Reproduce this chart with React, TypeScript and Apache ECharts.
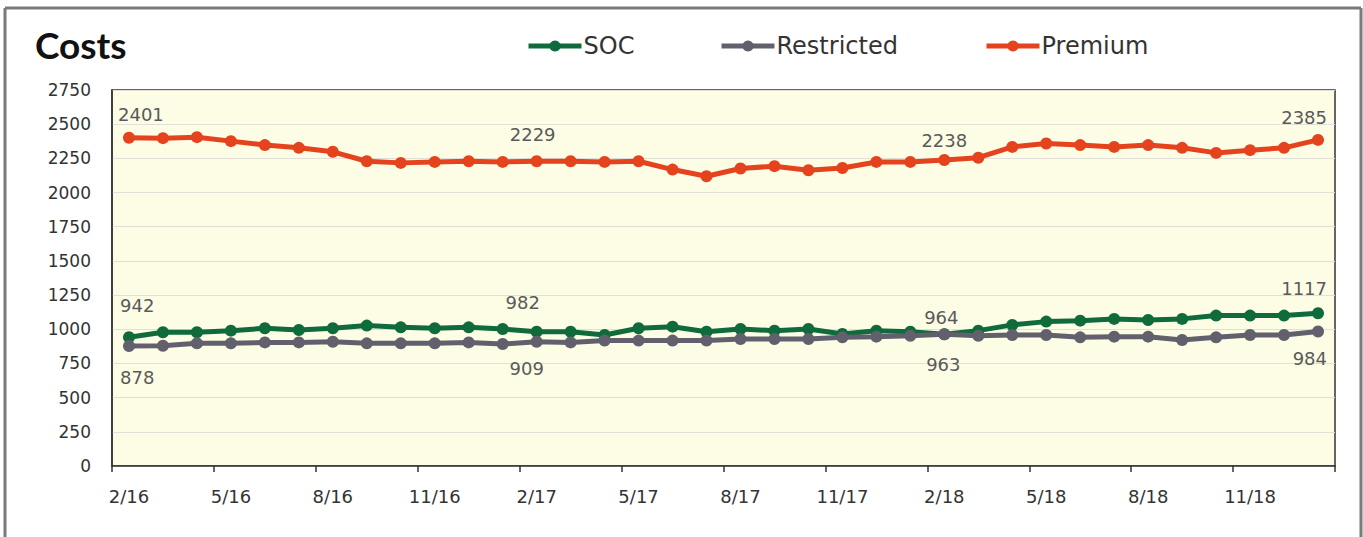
import React, { useEffect, useRef } from "react";
import * as echarts from "echarts";

const months: string[] = [
  "2/16", "3/16", "4/16", "5/16", "6/16", "7/16", "8/16", "9/16", "10/16", "11/16", "12/16", "1/17",
  "2/17", "3/17", "4/17", "5/17", "6/17", "7/17", "8/17", "9/17", "10/17", "11/17", "12/17", "1/18",
  "2/18", "3/18", "4/18", "5/18", "6/18", "7/18", "8/18", "9/18", "10/18", "11/18", "12/18", "1/19",
];

const socValues: number[] = [
  942, 978, 978, 990, 1007, 995, 1007, 1027, 1014, 1007, 1014, 1002,
  982, 982, 958, 1007, 1019, 982, 1002, 990, 1002, 966, 990, 982,
  964, 990, 1032, 1056, 1063, 1076, 1068, 1076, 1100, 1100, 1100, 1117,
];

const restrictedValues: number[] = [
  878, 880, 897, 897, 904, 904, 909, 897, 897, 897, 904, 892,
  909, 904, 917, 917, 917, 917, 929, 929, 929, 941, 946, 953,
  963, 953, 958, 958, 941, 946, 946, 922, 941, 958, 958, 984,
];

const premiumValues: number[] = [
  2401, 2398, 2405, 2376, 2347, 2327, 2298, 2229, 2217, 2224, 2229, 2224,
  2229, 2229, 2224, 2229, 2168, 2119, 2176, 2193, 2163, 2180, 2224, 2224,
  2238, 2255, 2334, 2359, 2347, 2334, 2347, 2327, 2290, 2310, 2327, 2385,
];

const yTicks = { min: 0, max: 2750, interval: 250 };

// label placement per labelled point: [index, position, distance, align, dx]
type LabelSpec = [number, "top" | "bottom", number, "left" | "center" | "right", number];

const premiumLabels: LabelSpec[] = [
  [0, "top", 8, "left", -11],
  [12, "top", 12, "center", -4],
  [24, "top", 5, "center", 0],
  [35, "top", 7, "right", 9],
];
const socLabels: LabelSpec[] = [
  [0, "top", 17, "left", -9],
  [12, "top", 14, "center", -14],
  [24, "top", 2, "center", -3],
  [35, "top", 10, "right", 9],
];
const restrictedLabels: LabelSpec[] = [
  [0, "bottom", 17, "left", -9],
  [12, "bottom", 12, "center", -10],
  [24, "bottom", 15, "center", -1],
  [35, "bottom", 12, "right", 9],
];

const FONT = "'DejaVu Sans', sans-serif";

function buildData(values: number[], specs: LabelSpec[]) {
  return values.map((v, i) => {
    const s = specs.find((x) => x[0] === i);
    if (!s) return v;
    return {
      value: v,
      label: {
        show: true,
        position: s[1],
        distance: s[2],
        align: s[3],
        offset: [s[4], 0],
        color: "#5a5a5a",
        fontSize: 18,
        fontFamily: FONT,
      },
    };
  });
}

const legendBase = {
  top: 29,
  itemWidth: 53,
  itemHeight: 14,
  lineStyle: { width: 5 },
  textStyle: { fontFamily: FONT, fontSize: 24, color: "#333333", padding: [0, 0, 0, -3] },
};

export default function App() {
  const ref = useRef<HTMLDivElement>(null);

  useEffect(() => {
    if (!ref.current) return;
    const chart = echarts.init(ref.current, undefined, { renderer: "svg" });
    const mkSeries = (name: string, color: string, values: number[], specs: LabelSpec[]) => ({
      name,
      type: "line",
      data: buildData(values, specs),
      symbol: "circle",
      symbolSize: 12,
      lineStyle: { color, width: 5 },
      itemStyle: { color },
      label: { show: false },
      emphasis: { disabled: true },
    });
    chart.setOption({
      animation: false,
      backgroundColor: "#ffffff",
      title: {
        text: "Costs",
        left: 30,
        top: 21,
        textStyle: { fontFamily: "Lato, 'Noto Sans', sans-serif", fontWeight: "bold", fontSize: 37, color: "#111111" },
      },
      legend: [
        { ...legendBase, left: 521, data: ["SOC"] },
        { ...legendBase, left: 714, data: ["Restricted"] },
        { ...legendBase, left: 979, data: ["Premium"] },
      ],
      grid: {
        left: 112,
        right: 28,
        top: 90,
        bottom: 71,
        show: true,
        backgroundColor: "#fdfde6",
        borderColor: "#333333",
        borderWidth: 1.5,
      },
      xAxis: {
        type: "category",
        data: months,
        boundaryGap: true,
        axisLine: { lineStyle: { color: "#333333", width: 1.5 } },
        axisTick: { show: true, interval: 2, length: 6, lineStyle: { color: "#333333", width: 1.5 } },
        axisLabel: { interval: 2, margin: 21, fontSize: 18, fontFamily: FONT, color: "#333333" },
        splitLine: { show: false },
      },
      yAxis: {
        type: "value",
        min: yTicks.min,
        max: yTicks.max,
        interval: yTicks.interval,
        axisLine: { show: true, lineStyle: { color: "#333333", width: 1.5 } },
        axisTick: { show: false },
        axisLabel: {
          margin: 21,
          fontSize: 17,
          fontFamily: FONT,
          color: "#333333",
          formatter: (v: number) => String(v),
        },
        splitLine: { show: true, lineStyle: { color: "#e0e0d8", width: 1 } },
      },
      graphic: [
        { type: "line", shape: { x1: 5, y1: 8, x2: 1361, y2: 8 }, style: { stroke: "#7a7a7a", lineWidth: 3 } },
        { type: "line", shape: { x1: 5, y1: 8, x2: 5, y2: 537 }, style: { stroke: "#7a7a7a", lineWidth: 3 } },
        { type: "line", shape: { x1: 1361, y1: 8, x2: 1361, y2: 537 }, style: { stroke: "#7a7a7a", lineWidth: 3 } },
      ],
      series: [
        mkSeries("SOC", "#0f6a3c", socValues, socLabels),
        mkSeries("Restricted", "#62606c", restrictedValues, restrictedLabels),
        mkSeries("Premium", "#e4431d", premiumValues, premiumLabels),
      ],
    });
    return () => chart.dispose();
  }, []);

  return (
    <div
      ref={ref}
      style={{ position: "absolute", left: 0, top: 0, width: 1363, height: 537 }}
    />
  );
}
